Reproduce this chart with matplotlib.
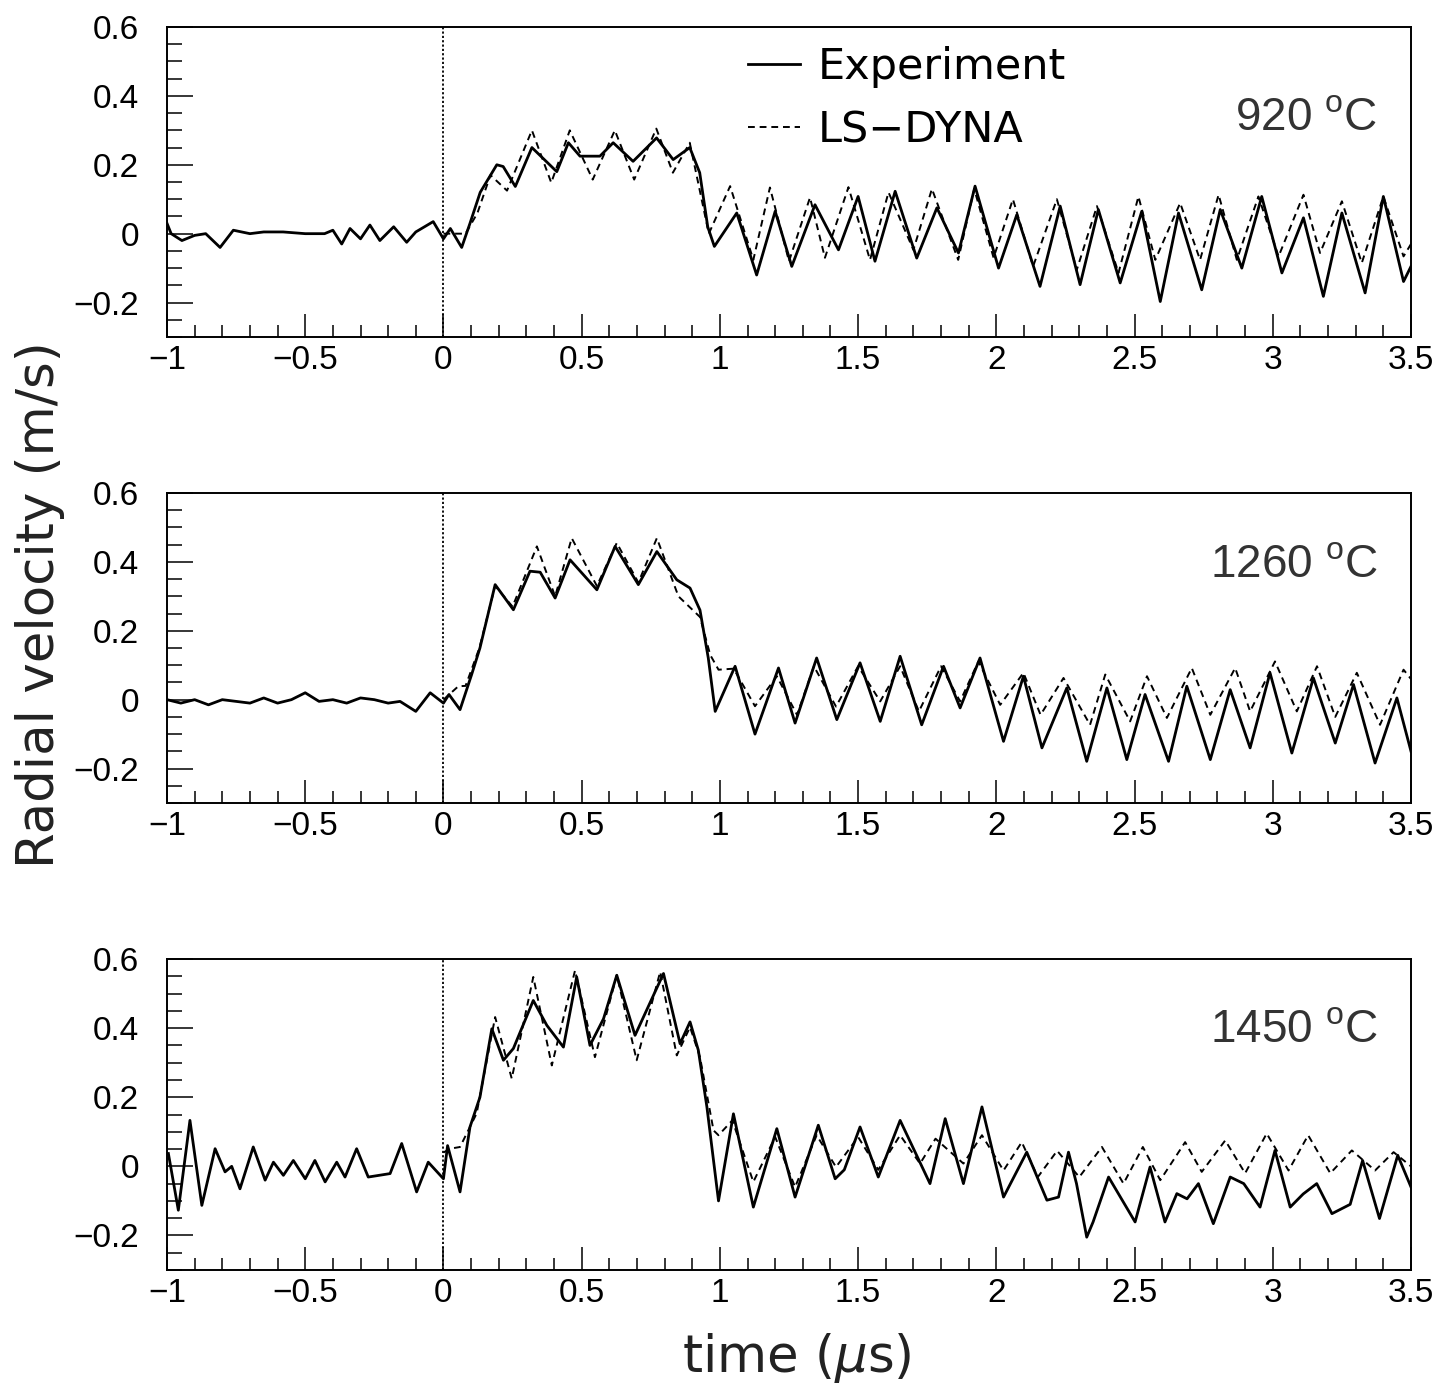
import matplotlib
matplotlib.use("Agg")
import matplotlib.pyplot as plt
from matplotlib.ticker import FixedLocator, MultipleLocator

# ---------------- data ----------------
temperatures = ["920", "1260", "1450"]
x_ticks = [-1, -0.5, 0, 0.5, 1, 1.5, 2, 2.5, 3, 3.5]
x_tick_labels = ["\u22121", "\u22120.5", "0", "0.5", "1", "1.5", "2", "2.5", "3", "3.5"]
y_ticks = [-0.2, 0, 0.2, 0.4, 0.6]
y_tick_labels = ["\u22120.2", "0", "0.2", "0.4", "0.6"]

# 920 C : experiment
t_exp_920 = [-1.0, -0.985, -0.946, -0.90, -0.86, -0.808, -0.76, -0.70, -0.65, -0.58, -0.50, -0.43,
             -0.40, -0.368, -0.338, -0.30, -0.266, -0.23, -0.18, -0.133, -0.10, -0.037, 0.0, 0.025,
             0.066, 0.096, 0.133, 0.193, 0.216, 0.26, 0.32, 0.41, 0.452, 0.494, 0.566, 0.614, 0.686,
             0.771, 0.831, 0.891, 0.927, 0.956, 0.98, 1.061, 1.133, 1.20, 1.26, 1.344, 1.429, 1.50,
             1.561, 1.634, 1.712, 1.785, 1.863, 1.923, 2.008, 2.074, 2.158, 2.231, 2.303, 2.369,
             2.448, 2.526, 2.593, 2.659, 2.743, 2.81, 2.888, 2.96, 3.033, 3.111, 3.183, 3.25, 3.334,
             3.40, 3.473, 3.5]
v_exp_920 = [0.03, 0.0, -0.02, -0.005, 0.0, -0.04, 0.01, 0.0, 0.005, 0.005, 0.0, 0.0,
             0.01, -0.03, 0.015, -0.015, 0.025, -0.02, 0.02, -0.025, 0.005, 0.035, -0.015, 0.015,
             -0.04, 0.03, 0.12, 0.20, 0.195, 0.137, 0.25, 0.18, 0.264, 0.225, 0.225, 0.264, 0.21,
             0.278, 0.215, 0.25, 0.177, 0.02, -0.037, 0.06, -0.12, 0.065, -0.095, 0.084, -0.047, 0.108,
             -0.08, 0.123, -0.071, 0.075, -0.056, 0.138, -0.10, 0.055, -0.153, 0.08, -0.148, 0.07,
             -0.143, 0.065, -0.197, 0.06, -0.163, 0.07, -0.10, 0.108, -0.114, 0.046, -0.182, 0.06, -0.172,
             0.108, -0.139, -0.095]
# 920 C : LS-DYNA
t_sim_920 = [0.0, 0.08, 0.123, 0.17, 0.23, 0.32, 0.39, 0.457, 0.54, 0.62, 0.69, 0.77, 0.83, 0.891,
             0.96, 1.037, 1.121, 1.181, 1.25, 1.326, 1.38, 1.465, 1.543, 1.61, 1.70, 1.767, 1.862,
             1.92, 1.99, 2.06, 2.133, 2.219, 2.291, 2.364, 2.442, 2.514, 2.575, 2.665, 2.737, 2.804,
             2.87, 2.948, 3.021, 3.111, 3.171, 3.25, 3.322, 3.40, 3.473, 3.5]
v_sim_920 = [0.0, 0.0, 0.06, 0.17, 0.125, 0.30, 0.148, 0.30, 0.157, 0.30, 0.157, 0.305, 0.177, 0.264,
             0.0, 0.138, -0.076, 0.134, -0.08, 0.105, -0.07, 0.135, -0.076, 0.12, -0.047, 0.13, -0.076,
             0.13, -0.07, 0.10, -0.095, 0.10, -0.105, 0.08, -0.114, 0.108, -0.076, 0.089, -0.076, 0.113,
             -0.076, 0.108, -0.066, 0.113, -0.056, 0.094, -0.085, 0.108, -0.066, -0.03]

# 1260 C : experiment
t_exp_1260 = [-1.0, -0.95, -0.9, -0.85, -0.8, -0.75, -0.7, -0.65, -0.6, -0.55, -0.5, -0.45, -0.4,
              -0.35, -0.3, -0.25, -0.2, -0.157, -0.10, -0.048, 0.0, 0.02, 0.06, 0.102, 0.132, 0.187,
              0.253, 0.313, 0.35, 0.404, 0.458, 0.555, 0.621, 0.705, 0.772, 0.844, 0.892, 0.928,
              0.958, 0.983, 1.055, 1.127, 1.212, 1.272, 1.35, 1.423, 1.507, 1.58, 1.652, 1.73,
              1.809, 1.869, 1.941, 2.026, 2.098, 2.165, 2.255, 2.327, 2.40, 2.472, 2.538, 2.623,
              2.689, 2.774, 2.846, 2.918, 2.99, 3.069, 3.147, 3.226, 3.292, 3.37, 3.449, 3.5]
v_exp_1260 = [0.0, -0.01, 0.0, -0.015, 0.0, -0.005, -0.01, 0.005, -0.01, 0.0, 0.02, -0.005, 0.0,
              -0.01, 0.005, 0.0, -0.01, -0.005, -0.034, 0.02, -0.01, 0.015, -0.029, 0.073, 0.15, 0.334,
              0.261, 0.373, 0.37, 0.295, 0.406, 0.319, 0.445, 0.334, 0.43, 0.348, 0.324, 0.26,
              0.121, -0.034, 0.097, -0.10, 0.092, -0.068, 0.121, -0.058, 0.107, -0.063, 0.126, -0.073,
              0.097, -0.024, 0.121, -0.121, 0.068, -0.14, 0.034, -0.179, 0.034, -0.174, 0.015, -0.179,
              0.039, -0.174, 0.029, -0.14, 0.078, -0.155, 0.063, -0.126, 0.044, -0.184, 0.005, -0.15]
# 1260 C : LS-DYNA
t_sim_1260 = [0.0, 0.054, 0.08, 0.13, 0.187, 0.25, 0.338, 0.404, 0.464, 0.555, 0.627, 0.705, 0.772,
              0.85, 0.928, 0.965, 0.995, 1.05, 1.127, 1.206, 1.279, 1.34, 1.42, 1.50, 1.58, 1.652,
              1.72, 1.80, 1.869, 1.935, 2.014, 2.098, 2.16, 2.243, 2.339, 2.394, 2.484, 2.545, 2.617,
              2.707, 2.774, 2.864, 2.918, 3.008, 3.087, 3.16, 3.226, 3.304, 3.388, 3.473, 3.5]
v_sim_1260 = [0.0, 0.039, 0.04, 0.15, 0.33, 0.27, 0.445, 0.30, 0.469, 0.33, 0.455, 0.34, 0.469,
              0.30, 0.24, 0.13, 0.087, 0.09, -0.019, 0.068, -0.044, 0.097, -0.02, 0.097, -0.005, 0.097,
              -0.034, 0.097, -0.005, 0.111, -0.015, 0.078, -0.044, 0.063, -0.073, 0.073, -0.063, 0.068,
              -0.053, 0.092, -0.044, 0.092, -0.034, 0.111, -0.034, 0.097, -0.05, 0.078, -0.073, 0.087, 0.06]

# 1450 C : experiment
t_exp_1450 = [-0.995, -0.959, -0.917, -0.874, -0.826, -0.79, -0.766, -0.736, -0.688, -0.645, -0.615,
              -0.579, -0.543, -0.50, -0.465, -0.428, -0.386, -0.356, -0.314, -0.272, -0.193, -0.151,
              -0.097, -0.055, 0.0, 0.015, 0.06, 0.096, 0.132, 0.175, 0.217, 0.253, 0.325, 0.374,
              0.434, 0.482, 0.53, 0.579, 0.627, 0.693, 0.796, 0.856, 0.892, 0.922, 0.953, 0.995,
              1.049, 1.121, 1.206, 1.272, 1.356, 1.417, 1.45, 1.507, 1.573, 1.652, 1.76, 1.815,
              1.881, 1.948, 2.026, 2.11, 2.183, 2.225, 2.261, 2.29, 2.327, 2.35, 2.406, 2.502, 2.556,
              2.61, 2.653, 2.69, 2.731, 2.785, 2.846, 2.895, 2.954, 3.008, 3.063, 3.11, 3.159, 3.214,
              3.28, 3.325, 3.386, 3.452, 3.5]
v_exp_1450 = [0.037, -0.127, 0.133, -0.113, 0.051, -0.016, 0.0, -0.065, 0.056, -0.04, 0.012,
              -0.026, 0.017, -0.036, 0.017, -0.045, 0.012, -0.031, 0.051, -0.031, -0.021, 0.066,
              -0.074, 0.012, -0.036, 0.06, -0.074, 0.114, 0.20, 0.398, 0.307, 0.341, 0.48, 0.408,
              0.345, 0.548, 0.35, 0.427, 0.553, 0.379, 0.558, 0.355, 0.418, 0.336, 0.172, -0.10,
              0.152, -0.118, 0.109, -0.089, 0.119, -0.036, -0.01, 0.114, -0.031, 0.133, -0.05, 0.138,
              -0.05, 0.172, -0.089, 0.041, -0.098, -0.089, 0.041, -0.05, -0.205, -0.161, -0.031, -0.161, -0.002,
              -0.161, -0.079, -0.094, -0.05, -0.166, -0.031, -0.05, -0.118, 0.046, -0.118, -0.08, -0.05, -0.137,
              -0.11, 0.017, -0.151, 0.032, -0.06]
# 1450 C : LS-DYNA
t_sim_1450 = [0.0, 0.024, 0.06, 0.12, 0.187, 0.247, 0.325, 0.392, 0.476, 0.548, 0.627, 0.699,
              0.784, 0.844, 0.892, 0.928, 0.977, 0.995, 1.045, 1.121, 1.20, 1.272, 1.35, 1.42, 1.50,
              1.573, 1.652, 1.724, 1.78, 1.881, 1.948, 2.026, 2.092, 2.15, 2.22, 2.30, 2.382, 2.46,
              2.53, 2.593, 2.683, 2.743, 2.828, 2.90, 2.978, 3.057, 3.128, 3.208, 3.286, 3.37, 3.437, 3.5]
v_sim_1450 = [0.04, 0.051, 0.056, 0.153, 0.432, 0.254, 0.548, 0.292, 0.567, 0.316, 0.553, 0.307,
              0.563, 0.321, 0.403, 0.316, 0.104, 0.09, 0.133, -0.045, 0.085, -0.06, 0.09, -0.002, 0.085,
              -0.01, 0.09, 0.008, 0.08, 0.008, 0.09, -0.012, 0.07, -0.031, 0.045, -0.031, 0.056, -0.05,
              0.056, -0.04, 0.07, -0.016, 0.075, -0.02, 0.095, -0.012, 0.09, -0.02, 0.046, -0.012, 0.041, 0.0]

exp_t = [t_exp_920, t_exp_1260, t_exp_1450]
exp_v = [v_exp_920, v_exp_1260, v_exp_1450]
sim_t = [t_sim_920, t_sim_1260, t_sim_1450]
sim_v = [v_sim_920, v_sim_1260, v_sim_1450]

# ---------------- figure ----------------
plt.rcParams['font.family'] = ['Liberation Sans', 'DejaVu Sans']
plt.rcParams['mathtext.fontset'] = 'custom'
plt.rcParams['mathtext.rm'] = 'Liberation Sans'
plt.rcParams['mathtext.it'] = 'DejaVu Sans:italic'

W, H = 1443, 1390
fig = plt.figure(figsize=(W / 100, H / 100), dpi=100)

left_px, right_px = 167, 1411
panels_px = [(27, 337), (493, 803), (959, 1270)]
label_y = [0.706, 0.768, 0.772]

for i, (top, bot) in enumerate(panels_px):
    ax = fig.add_axes([left_px / W, 1 - bot / H, (right_px - left_px) / W, (bot - top) / H])
    ax.plot(exp_t[i], exp_v[i], color='black', lw=2.0, solid_joinstyle='round')
    ax.plot(sim_t[i], sim_v[i], color='black', lw=1.4, linestyle=(0, (3.5, 2.5)))
    ax.axvline(0, color='black', lw=1.3, linestyle=(0, (1.2, 1.2)))
    ax.set_xlim(-1, 3.5)
    ax.set_ylim(-0.3, 0.6)
    ax.xaxis.set_major_locator(FixedLocator(x_ticks))
    ax.set_xticklabels(x_tick_labels)
    ax.xaxis.set_minor_locator(MultipleLocator(0.1))
    ax.yaxis.set_major_locator(FixedLocator(y_ticks))
    ax.set_yticklabels(y_tick_labels)
    ax.yaxis.set_minor_locator(MultipleLocator(0.05))
    ax.tick_params(axis='x', which='major', direction='in', length=16.5, width=1.1, labelsize=24, pad=6)
    ax.tick_params(axis='x', which='minor', direction='in', length=8.6, width=1.1)
    ax.tick_params(axis='y', which='major', direction='in', length=18.7, width=1.1, labelsize=24, pad=20)
    ax.tick_params(axis='y', which='minor', direction='in', length=10.8, width=1.1)
    for s in ax.spines.values():
        s.set_linewidth(1.4)
    ax.text(0.973, label_y[i], temperatures[i] + r' $^{\mathrm{o}}$C', transform=ax.transAxes,
            ha='right', va='center', fontsize=33, color='#333333')
    if i == 0:
        ax.legend(['Experiment', 'LS\u2212DYNA'], loc='upper left', bbox_to_anchor=(0.467, 0.94),
                  frameon=False, handlelength=1.2, handletextpad=0.42, labelspacing=0.5,
                  borderaxespad=0.0, borderpad=0.0, prop={'family': 'DejaVu Sans', 'size': 31})

fig.text(40 / W, 1 - 605 / H, 'Radial velocity (m/s)', rotation=90, ha='center', va='center',
         fontsize=37, family='DejaVu Sans', color='#222222')
fig.text(797 / W, 1 - 1358 / H, r'time ($\mu$s)', ha='center', va='center', fontsize=37,
         family='DejaVu Sans', color='#222222')

fig.savefig('out.png', dpi=100)
